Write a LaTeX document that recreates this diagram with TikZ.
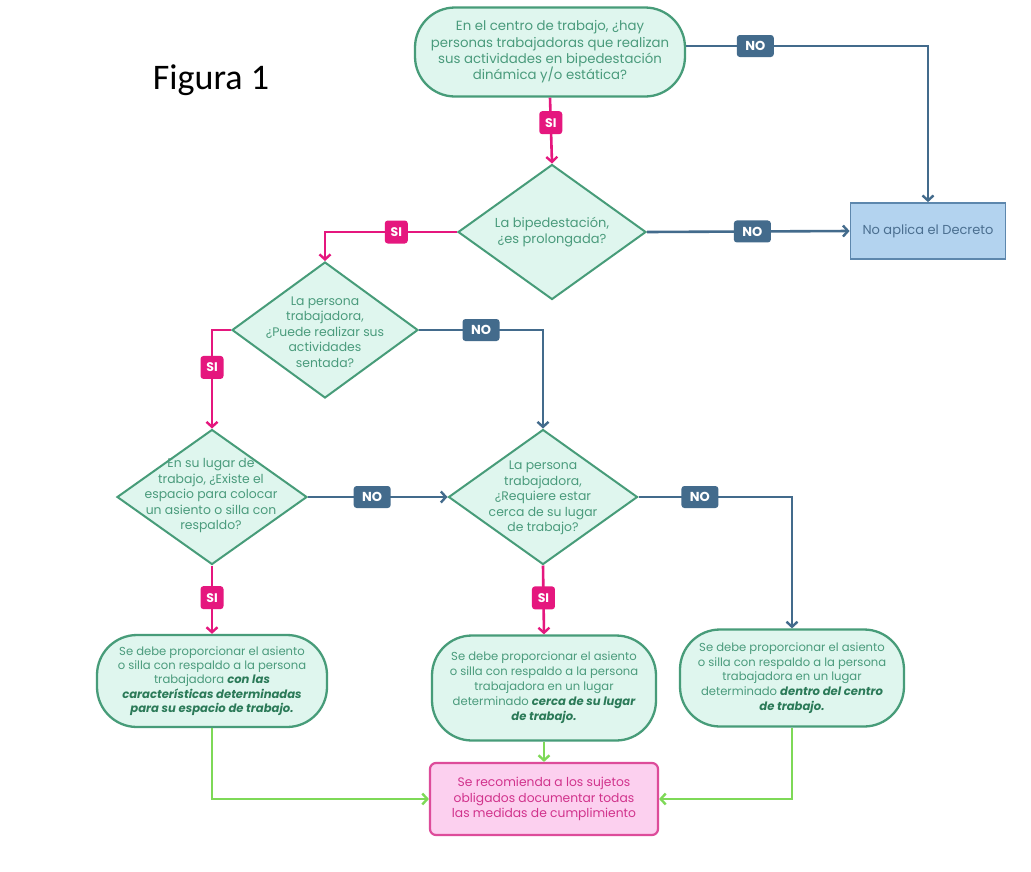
\documentclass[tikz,border=0pt]{standalone}
\usepackage{fontspec}
\setmainfont{Poppins}
\newfontfamily\calib{Carlito}
\usetikzlibrary{shapes.geometric,arrows.meta}
\definecolor{mint}{HTML}{DFF6EE}
\definecolor{mintb}{HTML}{479C79}
\definecolor{mintt}{HTML}{4A9B7C}
\definecolor{mintd}{HTML}{2B7A58}
\definecolor{pinkc}{HTML}{E5177E}
\definecolor{navy}{HTML}{436B8C}
\definecolor{lblue}{HTML}{B3D3EF}
\definecolor{lbb}{HTML}{5D87AD}
\definecolor{lbt}{HTML}{4B6F90}
\definecolor{gl}{HTML}{7ED957}
\definecolor{pfill}{HTML}{FCD0EF}
\definecolor{pbord}{HTML}{DD4C9A}
\definecolor{ptext}{HTML}{D1338C}
\tikzset{
  term/.style={draw=mintb, fill=mint, line width=2.3pt, rounded corners=40pt, align=center, text=mintt, inner sep=0pt},
  dia/.style={diamond, draw=mintb, fill=mint, line width=2pt, inner sep=0pt, minimum width=#1},
  dtext/.style={align=center, text=mintt, font=\fontsize{12.4}{15.5}\selectfont, inner sep=0pt},
  silab/.style={fill=pinkc, text=white, font=\fontsize{12.5}{13}\selectfont\bfseries, rounded corners=3pt, minimum width=23pt, minimum height=23pt, inner sep=1pt},
  nolab/.style={fill=navy, text=white, font=\fontsize{13}{14}\selectfont\bfseries, rounded corners=3pt, minimum width=37pt, minimum height=22pt, inner sep=1pt},
  pline/.style={draw=pinkc, line width=2.6pt, -{Straight Barb[length=5pt,width=11pt,line width=2.4pt]}},
  nline/.style={draw=navy, line width=2.6pt, -{Straight Barb[length=5pt,width=11pt,line width=2.4pt]}},
  gline/.style={draw=gl, line width=2.6pt, -{Straight Barb[length=5pt,width=11pt,line width=2.4pt]}},
}
\newcommand{\bi}[1]{{\bfseries\itshape\color{mintd}#1}}
\begin{document}
\begin{tikzpicture}[x=1pt,y=-1pt]
\useasboundingbox[fill=white] (0,0) rectangle (1031,871);
\node[font=\calib\fontsize{36}{40}\selectfont, text=black, inner sep=0pt] (fig) at (211,80) {Figura 1};

\node[term, minimum width=270pt, minimum height=89pt, font=\fontsize{13.3}{16.4}\selectfont] (q1) at (550,52)
  {En el centro de trabajo, ¿hay\\personas trabajadoras que realizan\\sus actividades en bipedestación\\dinámica y/o estática?};

\node[draw=lbb, fill=lblue, line width=1.8pt, minimum width=155pt, minimum height=56pt, text=lbt, font=\fontsize{13}{14}\selectfont, inner sep=0pt] (nd) at (928,231) {No aplica el Decreto};

\node[dia=188pt, minimum height=135pt] (d1) at (552,232) {};
\node[dtext, font=\fontsize{13}{16}\selectfont] (d1t) at (552,232) {La bipedestación,\\¿es prolongada?};

\node[dia=186pt, minimum height=136pt] (d2) at (325,330) {};
\node[dtext] (d2t) at (325,332) {La persona\\trabajadora,\\¿Puede realizar sus\\actividades\\sentada?};

\node[dia=190pt, minimum height=135pt] (d3) at (212,497) {};
\node[dtext] (d3t) at (211,496) {En su lugar de\\trabajo, ¿Existe el\\espacio para colocar\\un asiento o silla con\\respaldo?};

\node[dia=189pt, minimum height=135pt] (d4) at (543,497) {};
\node[dtext] (d4t) at (543,498) {La persona\\trabajadora,\\¿Requiere estar\\cerca de su lugar\\de trabajo?};

\node[term, minimum width=230pt, minimum height=92pt, font=\fontsize{11.6}{14.2}\selectfont] (bA) at (212,681)
  {Se debe proporcionar el asiento\\o silla con respaldo a la persona\\trabajadora \bi{con las}\\\bi{características determinadas}\\\bi{para su espacio de trabajo.}};
\node[term, minimum width=224pt, minimum height=105pt, font=\fontsize{11.6}{15}\selectfont] (bB) at (544,688)
  {Se debe proporcionar el asiento\\o silla con respaldo a la persona\\trabajadora en un lugar\\determinado \bi{cerca de su lugar}\\\bi{de trabajo.}};
\node[term, minimum width=224pt, minimum height=97pt, font=\fontsize{11.6}{14.6}\selectfont] (bC) at (792,678)
  {Se debe proporcionar el asiento\\o silla con respaldo a la persona\\trabajadora en un lugar\\determinado \bi{dentro del centro}\\\bi{de trabajo.}};

\node[draw=pbord, fill=pfill, line width=2.2pt, rounded corners=6pt, minimum width=228pt, minimum height=72pt, align=center, text=ptext, font=\fontsize{12.3}{15.5}\selectfont, inner sep=0pt] (P) at (544,799)
  {Se recomienda a los sujetos\\obligados documentar todas\\las medidas de cumplimiento};

% connectors
\draw[pline] (q1.south) -- node[silab, pos=0.38]{SI} (d1.north);
\draw[nline] ([yshift=6pt]q1.east) -| node[nolab, pos=0.143]{NO} (nd.north);
\draw[nline] (d1.east) -- node[nolab, pos=0.52]{NO} (nd.west);
\draw[pline] (d1.west) -| node[silab, pos=0.23]{SI} (d2.north);
\draw[pline] (d2.west) -| node[silab, pos=0.69]{SI} (d3.north);
\draw[nline] (d2.east) -| node[nolab, pos=0.25]{NO} (d4.north);
\draw[nline] (d3.east) -- node[nolab, pos=0.46]{NO} (d4.west);
\draw[pline] (d3.south) -- node[silab, pos=0.47]{SI} (bA.north);
\draw[pline] (d4.south) -- node[silab, pos=0.47]{SI} (bB.north);
\draw[nline] (d4.east) -| node[nolab, pos=0.2]{NO} (bC.north);
\draw[gline] (bA.south) |- (P.west);
\draw[gline] (bB.south) -- (P.north);
\draw[gline] (bC.south) |- (P.east);
\end{tikzpicture}
\end{document}
